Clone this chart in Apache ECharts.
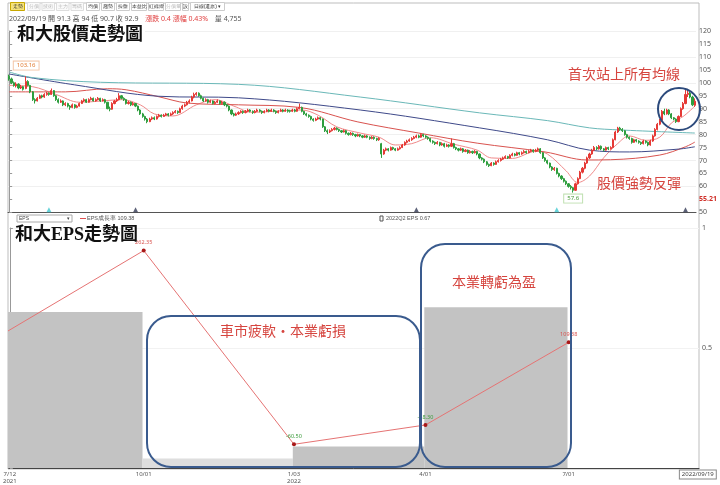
<!DOCTYPE html>
<html><head><meta charset="utf-8">
<script src="https://cdn.jsdelivr.net/npm/echarts@6/dist/echarts.min.js"></script>
<style>html,body{margin:0;padding:0;background:#fff}#c{width:720px;height:485px}</style>
</head><body><div id="c"></div>
<script>
// ---- DATA ----
// daily candles [open, close, low, high], trading days 2021/07/12 .. 2022/09/19
const candles = [
[102.5,101.5,100.8,103.16],[101.5,100.0,99.5,102.0],[100.0,99.0,98.5,100.5],[98.8,99.5,98.2,100.2],[99.5,98.0,97.5,99.8],
[98.0,98.5,97.6,99.2],[98.5,97.5,97.0,98.8],[97.8,100.5,97.5,102.5],[100.5,99.0,98.6,101.0],[99.0,96.5,96.0,99.2],
[96.5,93.5,93.0,96.8],[93.5,93.0,92.0,94.0],[93.0,94.0,92.8,94.5],[94.0,95.0,93.8,95.5],[95.0,94.5,94.0,95.4],
[94.5,95.5,94.2,96.0],[95.5,96.0,95.0,96.5],[96.0,95.5,95.0,96.3],[95.5,97.0,95.3,97.8],[97.0,95.0,94.6,97.2],
[95.0,93.5,93.0,95.3],[93.5,92.5,92.0,94.0],[92.5,93.0,92.2,93.6],[93.0,91.5,91.0,93.2],[91.5,92.0,91.0,92.5],
[92.0,91.0,90.5,92.3],[91.0,90.5,89.6,91.4],[90.5,91.5,90.2,92.0],[91.5,90.5,90.0,91.8],[90.5,91.0,90.2,91.5],
[91.0,92.0,90.8,92.4],[92.0,93.0,91.8,93.4],[93.0,93.5,92.6,94.0],[93.5,92.5,92.2,93.8],[92.5,93.5,92.3,94.0],
[93.5,94.0,93.2,94.6],[94.0,93.0,92.8,94.3],[93.0,93.5,92.7,94.0],[93.5,94.0,93.2,94.5],[94.0,93.0,92.6,94.2],
[93.0,93.5,92.8,94.0],[93.5,92.5,92.0,93.8],[92.5,90.0,89.8,92.6],[90.0,89.8,89.0,90.8],[89.8,92.0,89.6,92.5],
[92.0,93.0,91.7,93.4],[93.0,93.5,92.6,94.2],[93.5,95.0,93.2,96.0],[95.0,94.0,93.6,95.3],[94.0,93.5,93.0,94.4],
[93.5,92.0,91.6,93.8],[92.0,92.5,91.6,93.0],[92.5,91.5,91.0,92.8],[91.5,92.0,91.2,92.6],[92.0,91.0,90.6,92.2],
[91.0,89.5,89.0,91.2],[89.5,88.0,87.6,89.8],[88.0,87.0,86.5,88.4],[87.0,86.0,85.4,87.3],[86.0,85.0,84.4,86.4],
[85.0,86.0,84.8,86.5],[86.0,86.5,85.6,87.0],[86.5,86.0,85.6,87.0],[86.0,87.0,85.8,87.4],[87.0,87.5,86.6,88.0],
[87.5,87.0,86.6,87.8],[87.0,87.5,86.8,88.0],[87.5,88.0,87.2,88.4],[88.0,87.5,87.0,88.3],[87.5,88.0,87.2,88.5],
[88.0,88.5,87.6,89.0],[88.5,89.0,88.2,89.5],[89.0,88.5,88.0,89.3],[88.5,90.0,88.3,90.4],[90.0,91.0,89.6,91.5],
[91.0,91.5,90.6,92.0],[91.5,92.5,91.2,93.0],[92.5,93.0,92.0,93.6],[93.0,94.5,92.8,95.0],[94.5,95.5,94.0,96.2],
[95.5,96.0,95.0,96.4],[96.0,95.0,94.6,96.3],[95.0,94.0,93.6,95.4],[94.0,93.0,92.6,94.3],[93.0,93.5,92.7,94.0],
[93.5,92.5,92.0,93.8],[92.5,93.0,92.2,93.5],[93.0,92.0,91.6,93.2],[92.0,92.5,91.7,93.0],[92.5,93.0,92.2,93.6],
[93.0,92.0,91.6,93.2],[92.0,92.5,91.7,93.0],[92.5,91.5,91.0,92.8],[91.5,91.0,90.5,91.8],[91.0,89.5,89.0,91.2],
[89.5,88.0,87.5,89.7],[88.0,87.5,87.0,88.4],[87.5,88.0,87.2,88.5],[88.0,88.5,87.6,89.0],[88.5,89.0,88.2,89.4],
[89.0,88.5,88.0,89.3],[88.5,89.0,88.2,89.5],[89.0,89.5,88.6,90.0],[89.5,89.0,88.6,89.8],[89.0,88.5,88.0,89.3],
[88.5,89.0,88.2,89.5],[89.0,89.5,88.7,90.0],[89.5,89.0,88.6,89.8],[89.0,88.5,88.0,89.3],[88.5,89.0,88.2,89.4],
[89.0,89.5,88.7,90.0],[89.5,89.0,88.6,89.8],[89.0,89.5,88.8,90.0],[89.5,89.0,88.6,89.8],[89.0,88.5,88.0,89.3],
[88.5,89.0,88.2,89.4],[89.0,89.5,88.8,90.0],[89.5,89.0,88.6,89.8],[89.0,89.5,88.8,90.0],[89.5,89.0,88.5,89.8],
[89.2,89.0,88.5,89.6],[89.0,89.5,88.7,90.0],[89.5,89.0,88.6,89.9],[89.0,90.0,88.8,90.5],[90.0,90.5,89.8,92.0],
[90.5,89.0,88.6,90.8],[89.0,88.0,87.6,89.2],[88.0,87.5,87.0,88.4],[87.5,87.0,86.5,87.8],[87.0,86.0,85.5,87.3],
[86.0,85.5,85.0,86.3],[85.5,86.0,85.2,86.5],[86.0,86.5,85.7,87.0],[86.5,86.0,85.5,86.8],[86.0,83.0,82.6,86.2],
[83.0,81.5,81.0,83.3],[81.5,81.0,80.2,82.0],[81.0,81.5,80.6,82.0],[81.5,82.0,81.2,82.5],[82.0,82.5,81.6,83.0],
[82.5,82.0,81.6,82.8],[82.0,81.5,81.0,82.3],[81.5,81.0,80.6,81.8],[81.0,81.5,80.8,82.0],[81.5,80.5,80.0,81.8],
[80.5,80.0,79.6,80.8],[80.0,80.5,79.7,81.0],[80.5,80.0,79.5,80.8],[80.0,79.5,79.0,80.3],[79.5,80.0,79.2,80.4],
[80.0,79.5,79.0,80.2],[79.5,79.0,78.6,79.8],[79.0,79.5,78.7,80.0],[79.5,79.0,78.6,79.8],[79.0,78.5,78.0,79.3],
[78.5,79.0,78.2,79.4],[79.0,78.5,78.0,79.3],[78.5,78.0,77.5,78.8],[78.0,78.5,77.6,79.0],[76.5,72.5,71.0,76.8],
[72.5,74.0,72.2,74.5],[74.0,74.5,73.6,75.0],[74.5,74.0,73.5,74.8],[74.0,75.0,73.8,75.4],[75.0,74.5,74.0,75.3],
[74.5,74.0,73.6,74.8],[74.0,74.5,73.8,75.0],[74.5,75.0,74.2,75.5],[75.0,76.0,74.8,76.4],[76.0,77.0,75.7,77.4],
[77.0,77.5,76.6,78.0],[77.5,78.0,77.2,78.5],[78.0,78.5,77.6,79.0],[78.5,79.0,78.2,79.5],[79.0,79.5,78.6,80.0],
[79.5,79.0,78.6,80.0],[79.0,80.0,78.8,80.5],[80.0,79.5,79.0,80.3],[79.5,79.0,78.5,79.8],[79.0,78.5,78.0,79.3],
[78.5,77.5,77.0,78.8],[77.5,77.0,76.5,77.8],[77.0,76.5,76.0,77.3],[76.5,77.0,76.2,77.5],[77.0,76.0,75.5,77.2],
[76.0,76.5,75.7,77.0],[76.5,75.5,75.0,76.8],[75.5,76.0,75.2,76.5],[76.0,75.5,75.0,76.3],[75.5,76.5,75.2,78.5],
[76.5,75.0,74.6,76.8],[75.0,74.5,74.0,75.3],[74.5,74.0,73.5,74.8],[74.0,74.5,73.7,75.0],[74.5,73.5,73.0,74.8],
[73.5,74.0,73.2,74.4],[74.0,73.0,72.6,74.2],[73.0,73.5,72.7,74.0],[73.5,73.0,72.5,73.8],[73.0,73.5,72.7,74.0],
[73.5,72.5,72.0,73.7],[72.5,71.0,70.5,72.7],[71.0,70.5,70.0,71.3],[70.5,69.5,69.0,70.8],[69.5,68.5,68.0,69.8],
[68.5,68.0,67.5,68.8],[68.0,69.0,67.8,69.4],[69.0,68.5,68.0,69.3],[68.5,69.5,68.3,70.0],[69.5,70.0,69.2,70.5],
[70.0,70.5,69.6,71.0],[70.5,71.0,70.2,71.5],[71.0,71.5,70.7,72.0],[71.5,71.0,70.6,71.8],[71.0,72.0,70.8,72.4],
[72.0,72.5,71.6,73.0],[72.5,72.0,71.6,72.8],[72.0,73.0,71.8,73.4],[73.0,72.5,72.0,73.3],[72.5,73.0,72.2,73.5],
[73.0,73.5,72.7,74.0],[73.5,73.0,72.6,73.8],[73.0,73.5,72.8,74.0],[73.5,74.0,73.2,74.5],[74.0,73.5,73.0,74.3],
[73.5,74.0,73.2,74.5],[74.0,74.5,73.6,75.0],[74.5,73.0,72.6,74.8],[73.0,71.0,70.6,73.2],[71.0,70.0,69.5,71.3],
[70.0,69.0,68.5,70.3],[69.0,67.5,67.0,69.2],[67.5,66.5,66.0,67.8],[66.5,67.0,66.0,67.5],[67.0,65.0,64.6,67.2],
[65.0,64.0,63.5,65.3],[64.0,63.0,62.5,64.3],[63.0,62.0,61.5,63.3],[62.0,61.0,60.5,62.3],[61.0,60.0,59.5,61.3],
[60.0,59.5,58.8,60.5],[59.5,58.5,57.6,59.8],[58.5,61.0,58.3,61.4],[61.0,63.0,60.7,63.5],[63.0,65.5,62.8,66.0],
[65.5,67.0,65.0,67.5],[67.0,69.0,66.6,69.5],[69.0,71.0,68.7,71.5],[71.0,72.5,70.6,73.0],[72.5,74.0,72.2,74.5],
[74.0,75.0,73.6,75.6],[75.0,74.5,74.0,75.5],[74.5,75.5,74.2,76.0],[75.5,74.5,74.0,75.8],[74.5,74.0,73.5,74.8],
[74.0,75.0,73.8,75.4],[75.0,74.5,74.0,75.3],[74.5,75.0,74.2,75.5],[75.0,78.0,74.8,78.5],[78.0,81.0,77.8,81.5],
[81.0,82.5,80.6,83.0],[82.5,82.0,81.5,83.0],[82.0,81.5,81.0,82.5],[81.5,80.0,79.6,81.8],[80.0,79.0,78.5,80.3],
[79.0,78.5,78.0,79.3],[78.5,77.0,76.5,78.8],[77.0,78.0,76.8,78.4],[78.0,77.5,77.0,78.3],[77.5,77.0,76.5,77.8],
[77.0,76.5,76.0,77.3],[76.5,77.5,76.2,78.0],[77.5,77.0,76.5,77.8],[77.0,76.0,75.5,77.3],[76.0,77.5,75.7,78.0],
[77.5,79.5,77.2,80.0],[79.5,82.0,79.2,82.5],[82.0,84.0,81.6,84.5],[84.0,85.5,83.6,86.0],[85.5,89.0,85.2,89.5],
[89.0,88.0,87.5,90.0],[88.0,89.5,87.7,90.0],[89.5,88.0,87.5,89.8],[88.0,86.5,86.0,88.3],[86.5,86.0,85.5,86.8],
[86.0,85.0,84.5,86.3],[85.0,87.0,84.8,87.4],[87.0,90.0,86.8,90.5],[90.0,92.0,89.6,92.6],[92.0,95.5,91.7,98.0],
[95.5,96.0,94.5,97.5],[96.0,94.5,94.0,96.5],[94.5,91.5,91.0,95.0],[91.3,92.9,90.7,94.0]
];
// moving averages: [dayIndex, value]
const maShort = [[0,99],[10,98.5],[20,95.5],[30,92.5],[40,93],[48,93.5],[56,91.5],[62,88],[70,87.2],[80,91.5],[88,93.5],[96,91],[104,88.6],[115,89.1],[125,89.5],[132,87.5],[140,83],[150,80.6],[158,79],[165,76],[172,76.5],[180,78.8],[190,76.3],[200,74],[206,71],[215,70.8],[225,73.5],[230,72.5],[238,66],[243,61.5],[248,64],[254,71],[260,76.5],[265,79.5],[272,77.8],[278,79],[283,84.5],[288,87],[293,91]];
const maMid = [[0,96.5],[24,96.5],[42,97.7],[50,97.3],[64,94.6],[76,92.2],[98,91.5],[124,90.5],[149,84.9],[175,80.6],[200,76.7],[229,73.3],[247,70.2],[257,70.3],[278,72.1],[289,75.3],[293,77.1]];
const maLong = [[0,103.4],[28,99.2],[64,94.8],[98,94.2],[150,89.5],[201,82.6],[230,78],[248,74],[265,73.3],[286,74.4],[293,75.3]];
const maYear = [[0,104.2],[10,102],[39,100.2],[98,99.4],[150,94.5],[201,88.4],[230,85.4],[248,82.6],[261,81.8],[293,80.6]];
const priceMax = [0, 103.16];
const priceMin = [241, 57.6];
const eventDays = [17, 54, 174, 234, 289];
const eventColors = ['#40c8d0','#333a55','#333a55','#40c8d0','#333a55'];
// quarterly EPS: [startDay, endDay, eps]
const epsQuarters = [[-7,57,0.65],[57,121,0.04],[121,177,0.09],[177,238,0.67]];
const epsColors = ['#c3c3c3','#dedede','#c3c3c3','#c3c3c3'];
// EPS growth rate (%): [day, value]
const epsGrowth = [[-7,114],[57,262.35],[121,-60.5],[177,-28.3],[238,109.38]];
const growthLabels = ['', '262.35', '-60.50', '-28.30', '109.38'];
const growthLabelColors = ['#d9534f','#d9534f','#3a9a3a','#3a9a3a','#d9534f'];
// x tick labels
const tickIndex = [0, 57, 121, 177, 238, 293];
const tickLabels = ['7/12\n2021', '10/01', '1/03\n2022', '4/01', '7/01', '{box|2022/09/19}'];

// ---- CHART ----
const chart = echarts.init(document.getElementById('c'));
const cjk = "'Noto Sans','Noto Sans CJK TC',sans-serif";
const serif = "'Liberation Serif','Noto Sans CJK TC',serif";
const lineSeries = (name, data, color, w) => ({
  name, type: 'line', xAxisIndex: 0, yAxisIndex: 0, data, smooth: 0.35,
  symbol: 'none', lineStyle: { color, width: w }, z: 3
});

const option = {
  animation: false,
  backgroundColor: '#fff',
  textStyle: { fontFamily: cjk },
  grid: [
    { left: 8, right: 21, top: 31, height: 181.3 },
    { left: 8, right: 21, top: 228, height: 240 }
  ],
  xAxis: [
    { type: 'value', gridIndex: 0, min: -0.5, max: 293.5,
      axisLabel: { show: false }, axisTick: { show: false }, splitLine: { show: false },
      axisLine: { lineStyle: { color: '#555', width: 1 } } },
    { type: 'value', gridIndex: 1, min: -0.5, max: 293.5,
      splitLine: { show: false }, axisTick: { show: false },
      axisLine: { lineStyle: { color: '#444', width: 1 } },
      axisLabel: { customValues: tickIndex, color: '#555', fontSize: 6, lineHeight: 7, margin: 3,
        showMinLabel: true, showMaxLabel: true, hideOverlap: false,
        formatter: v => { const k = tickIndex.indexOf(Math.round(v)); return k >= 0 ? tickLabels[k] : ''; },
        rich: { box: { fontSize: 6, color: '#444', borderColor: '#888', borderWidth: 1, padding: [1, 2], backgroundColor: '#fff' } } } }
  ],
  yAxis: [
    { type: 'value', gridIndex: 0, position: 'right', min: 50, max: 120, interval: 5,
      axisLine: { show: true, lineStyle: { color: '#999' } },
      axisTick: { show: true, length: 3, lineStyle: { color: '#999' } },
      splitLine: { show: false },
      axisLabel: { fontSize: 7, color: '#555', margin: 3,
        formatter: v => v === 55 ? '{r|55.21}' : String(v),
        rich: { r: { color: '#d0302a', fontSize: 7, fontWeight: 'bold' } } } },
    { type: 'value', gridIndex: 1, position: 'right', min: 0, max: 1, interval: 0.5,
      axisLine: { show: true, lineStyle: { color: '#999' } },
      axisTick: { show: true, length: 3, lineStyle: { color: '#999' } },
      splitLine: { show: true, lineStyle: { color: '#f2f2f2' } },
      axisLabel: { fontSize: 7, color: '#555', margin: 3, formatter: v => v === 0 ? '' : String(v) } },
    { type: 'value', gridIndex: 1, position: 'left', min: -100, max: 300, show: false },
    { type: 'value', gridIndex: 0, position: 'left', min: 50, max: 120, interval: 10,
      axisLine: { show: false }, axisTick: { show: false }, axisLabel: { show: false },
      splitLine: { show: true, lineStyle: { color: '#f0f0f0' } } }
  ],
  series: [
    { name: 'K', type: 'candlestick', xAxisIndex: 0, yAxisIndex: 0,
      data: candles.map((c, i) => [i, c[0], c[1], c[2], c[3]]),
      encode: { x: 0, y: [1, 2, 3, 4] },
      barWidth: 1.6, z: 4,
      itemStyle: { color: '#e53935', color0: '#2e9e3e', borderColor: '#e53935', borderColor0: '#2e9e3e', borderWidth: 1 },
      markPoint: {
        symbol: 'rect', symbolSize: 0,
        data: [
          { coord: priceMax, value: String(priceMax[1]),
            label: { show: true, offset: [17, -9], fontSize: 6, color: '#e0782e', backgroundColor: '#fff',
                     borderColor: '#f3c6a8', borderWidth: 1, padding: [1, 3] } },
          { coord: priceMin, value: String(priceMin[1]),
            label: { show: true, offset: [0, 6], fontSize: 6, color: '#4a9a3a', backgroundColor: '#fff',
                     borderColor: '#bfe0b0', borderWidth: 1, padding: [1, 3] } }
        ]
      } },
    lineSeries('MA20', maShort, '#f08a8a', 1),
    lineSeries('MA60', maMid, '#d9534f', 1),
    lineSeries('MA120', maLong, '#3f4a8a', 1),
    lineSeries('MA240', maYear, '#6ab8b8', 1),
    { name: 'events', type: 'scatter', xAxisIndex: 0, yAxisIndex: 0, symbol: 'triangle', symbolSize: 5,
      data: eventDays.map((d, i) => ({ value: [d, 51], itemStyle: { color: eventColors[i] } })), z: 5 },
    { name: 'EPS', type: 'custom', xAxisIndex: 1, yAxisIndex: 1, clip: true,
      data: epsQuarters, encode: { x: [0, 1], y: 2 },
      renderItem: (params, api) => {
        const p0 = api.coord([api.value(0) - 0.5, api.value(2)]);
        const p1 = api.coord([api.value(1) - 0.5, 0]);
        return { type: 'rect', shape: { x: p0[0], y: p0[1], width: p1[0] - p0[0], height: p1[1] - p0[1] },
                 style: { fill: epsColors[params.dataIndex] } };
      }, z: 1 },
    { name: 'EPS成長率', type: 'line', xAxisIndex: 1, yAxisIndex: 2, clip: true,
      data: epsGrowth.map((p, i) => ({ value: p,
        label: { show: growthLabels[i] !== '', formatter: growthLabels[i], color: growthLabelColors[i], fontSize: 5.5, position: 'top', distance: 3 } })),
      symbol: 'circle', symbolSize: 4,
      lineStyle: { color: '#e57373', width: 1 }, itemStyle: { color: '#a81818' }, z: 3 }
  ],
  graphic: [
    // frame
    { type: 'rect', shape: { x: 8, y: 3, width: 691, height: 466 }, style: { fill: null, stroke: '#bdbdbd', lineWidth: 1 }, z: 0, silent: true },
    // toolbar
    { type: 'group', left: 10, top: 2, children: [
      { type: 'rect', shape: { x: 0, y: 0, width: 14, height: 8 }, style: { fill: '#f5e27a', stroke: '#c8a800' } },
      { type: 'text', style: { x: 7, y: 4, text: '走勢', fontSize: 5, fill: '#333', align: 'center', verticalAlign: 'middle' } },
      ...['分價','技術','主力','籌碼'].flatMap((t, i) => [
        { type: 'rect', shape: { x: 17 + i * 14.5, y: 0, width: 12.5, height: 8 }, style: { fill: '#fafafa', stroke: '#ddd' } },
        { type: 'text', style: { x: 23.25 + i * 14.5, y: 4, text: t, fontSize: 5, fill: '#bbb', align: 'center', verticalAlign: 'middle' } }]),
      ...['均價','趨勢','操盤','本益比','紅綠燈','分價量','設','日線(還原) ▾'].flatMap((t, i) => {
        const xs = [76, 91, 106, 121, 138, 155, 172, 180]; const ws = [13, 13, 13, 15, 15, 15, 6, 34];
        return [
          { type: 'rect', shape: { x: xs[i], y: 0, width: ws[i], height: 8 }, style: { fill: '#fff', stroke: '#ccc' } },
          { type: 'text', style: { x: xs[i] + ws[i] / 2, y: 4, text: t, fontSize: 5, fill: i === 5 ? '#bbb' : '#333', align: 'center', verticalAlign: 'middle' } }];
      })
    ] },
    // info line
    { type: 'text', left: 9, top: 13, style: {
      text: '{g|2022/09/19 開 91.3 高 94 低 90.7 收 92.9}  {r|漲跌 0.4 漲幅 0.43%}  {g|量 4,755}',
      rich: { g: { fontSize: 7, fill: '#555', fontFamily: cjk }, r: { fontSize: 7, fill: '#e04040', fontFamily: cjk } } } },
    // titles
    { type: 'text', left: 15, top: 25, style: { text: '和大股價走勢圖', fontSize: 18, fontWeight: 'bold', fill: '#111', fontFamily: serif, backgroundColor: '#fff', padding: [1, 2] }, z: 10 },
    { type: 'text', left: 15, top: 226, style: { text: '和大EPS走勢圖', fontSize: 18, fontWeight: 'bold', fill: '#111', fontFamily: serif }, z: 10 },
    // lower legend row
    { type: 'rect', shape: { x: 17, y: 215, width: 55, height: 7 }, style: { fill: '#fff', stroke: '#aaa' }, z: 10 },
    { type: 'text', style: { x: 19, y: 218.5, text: 'EPS', fontSize: 5, fill: '#444', verticalAlign: 'middle' }, z: 11 },
    { type: 'text', style: { x: 68, y: 218.5, text: '▾', fontSize: 5, fill: '#444', align: 'center', verticalAlign: 'middle' }, z: 11 },
    { type: 'line', shape: { x1: 80, y1: 218.5, x2: 86, y2: 218.5 }, style: { stroke: '#e05050', lineWidth: 1 }, z: 10 },
    { type: 'text', style: { x: 87, y: 218.5, text: 'EPS成長率 109.38', fontSize: 5.5, fill: '#555', verticalAlign: 'middle' }, z: 10 },
    { type: 'rect', shape: { x: 380, y: 216, width: 3, height: 5 }, style: { fill: '#fff', stroke: '#555' }, z: 10 },
    { type: 'text', style: { x: 386, y: 218.5, text: '2022Q2 EPS 0.67', fontSize: 5.5, fill: '#555', verticalAlign: 'middle' }, z: 10 },
    // annotations top
    { type: 'text', style: { x: 568, y: 75, text: '首次站上所有均線', fontSize: 14, fill: '#d6453f', verticalAlign: 'middle', fontFamily: cjk }, z: 10 },
    { type: 'text', style: { x: 597, y: 184, text: '股價強勢反彈', fontSize: 14, fill: '#d6453f', verticalAlign: 'middle', fontFamily: cjk }, z: 10 },
    { type: 'circle', shape: { cx: 679, cy: 109, r: 21 }, style: { fill: null, stroke: '#2c4a7c', lineWidth: 2 }, z: 10 },
    // annotations bottom
    { type: 'rect', shape: { x: 147, y: 316, width: 273, height: 151, r: 24 }, style: { fill: null, stroke: '#3a5b8e', lineWidth: 2 }, z: 10 },
    { type: 'rect', shape: { x: 421, y: 244, width: 150, height: 223, r: 24 }, style: { fill: null, stroke: '#3a5b8e', lineWidth: 2 }, z: 10 },
    { type: 'text', style: { x: 220, y: 332, text: '車市疲軟・本業虧損', fontSize: 14, fill: '#d6453f', verticalAlign: 'middle', fontFamily: cjk }, z: 10 },
    { type: 'text', style: { x: 452, y: 283, text: '本業轉虧為盈', fontSize: 14, fill: '#d6453f', verticalAlign: 'middle', fontFamily: cjk }, z: 10 }
  ]
};
chart.setOption(option);
</script>
</body></html>
